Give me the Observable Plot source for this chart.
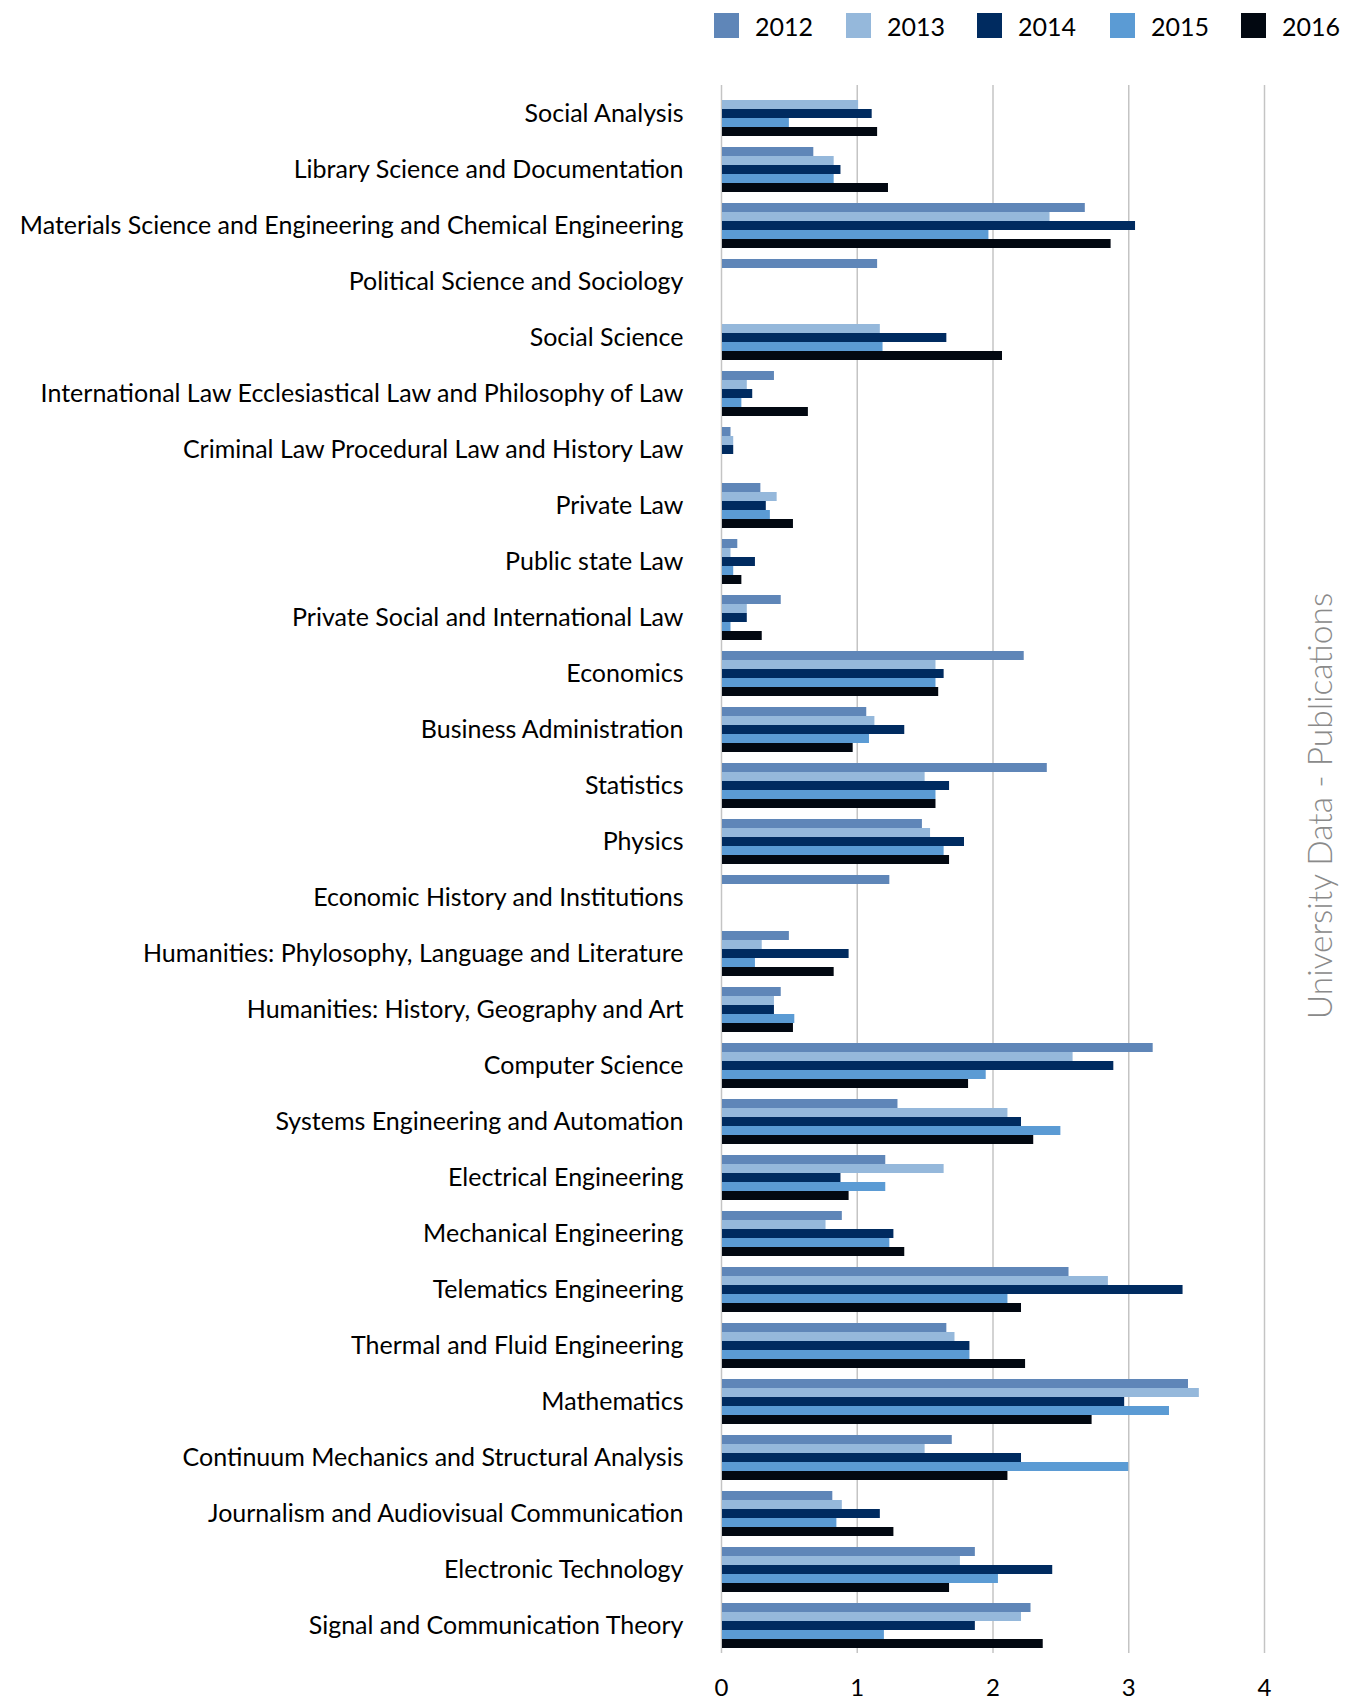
<!DOCTYPE html>
<html>
<head>
<meta charset="utf-8">
<script src="https://cdn.jsdelivr.net/npm/d3@7"></script>
<script src="https://cdn.jsdelivr.net/npm/@observablehq/plot@0.6"></script>
<style>
  html, body { margin: 0; padding: 0; background: #fff; }
  #wrap { position: relative; width: 1348px; height: 1704px; font-family: Lato, "Open Sans", sans-serif; }
  #legend { position: absolute; left: 0; top: 0; width: 1348px; height: 60px; }
  .item { position: absolute; top: 13px; height: 25px; display: flex; align-items: center; }
  .sw { width: 25px; height: 25px; }
  .lab { margin-left: 16px; font-size: 25px; color: #000; }
  #chart { position: absolute; left: 0; top: 60px; }
  #side { position: absolute; left: 1319px; top: 806px; transform: translate(-50%, -50%) rotate(-90deg);
          white-space: nowrap; font-size: 33.5px; font-weight: 300; color: #8a8a8a; }
</style>
</head>
<body>
<div id="wrap">
  <div id="legend"></div>
  <div id="chart"></div>
  <div id="side">University Data - Publications</div>
</div>
<script>
const categories = [
  "Social Analysis",
  "Library Science and Documentation",
  "Materials Science and Engineering and Chemical Engineering",
  "Political Science and Sociology",
  "Social Science",
  "International Law Ecclesiastical Law and Philosophy of Law",
  "Criminal Law Procedural Law and History Law",
  "Private Law",
  "Public state Law",
  "Private Social and International Law",
  "Economics",
  "Business Administration",
  "Statistics",
  "Physics",
  "Economic History and Institutions",
  "Humanities: Phylosophy, Language and Literature",
  "Humanities: History, Geography and Art",
  "Computer Science",
  "Systems Engineering and Automation",
  "Electrical Engineering",
  "Mechanical Engineering",
  "Telematics Engineering",
  "Thermal and Fluid Engineering",
  "Mathematics",
  "Continuum Mechanics and Structural Analysis",
  "Journalism and Audiovisual Communication",
  "Electronic Technology",
  "Signal and Communication Theory"
];

const years = ["2012", "2013", "2014", "2015", "2016"];
const colors = ["#5f86b8", "#95b8db", "#002b60", "#5b9bd4", "#020811"];
const xTicks = [0, 1, 2, 3, 4];

const v2012 = [null, 0.68, 2.68, 1.15, null, 0.39, 0.07, 0.29, 0.12, 0.44, 2.23, 1.07, 2.40, 1.48, 1.24, 0.50, 0.44, 3.18, 1.30, 1.21, 0.89, 2.56, 1.66, 3.44, 1.70, 0.82, 1.87, 2.28];
const v2013 = [1.01, 0.83, 2.42, null, 1.17, 0.19, 0.09, 0.41, 0.07, 0.19, 1.58, 1.13, 1.50, 1.54, null, 0.30, 0.39, 2.59, 2.11, 1.64, 0.77, 2.85, 1.72, 3.52, 1.50, 0.89, 1.76, 2.21];
const v2014 = [1.11, 0.88, 3.05, null, 1.66, 0.23, 0.09, 0.33, 0.25, 0.19, 1.64, 1.35, 1.68, 1.79, null, 0.94, 0.39, 2.89, 2.21, 0.88, 1.27, 3.40, 1.83, 2.97, 2.21, 1.17, 2.44, 1.87];
const v2015 = [0.50, 0.83, 1.97, null, 1.19, 0.15, null, 0.36, 0.09, 0.07, 1.58, 1.09, 1.58, 1.64, null, 0.25, 0.54, 1.95, 2.50, 1.21, 1.24, 2.11, 1.83, 3.30, 3.00, 0.85, 2.04, 1.20];
const v2016 = [1.15, 1.23, 2.87, null, 2.07, 0.64, null, 0.53, 0.15, 0.30, 1.60, 0.97, 1.58, 1.68, null, 0.83, 0.53, 1.82, 2.30, 0.94, 1.35, 2.21, 2.24, 2.73, 2.11, 1.27, 1.68, 2.37];

const series = [v2012, v2013, v2014, v2015, v2016];
const rows = [];
categories.forEach((c, i) => {
  years.forEach((y, j) => {
    const v = series[j][i];
    if (v != null) rows.push({category: c, year: y, value: v});
  });
});

// Legend
const legend = document.getElementById("legend");
const legendX = [714, 846, 977, 1110, 1241];
years.forEach((y, j) => {
  const it = document.createElement("div");
  it.className = "item";
  it.style.left = legendX[j] + "px";
  it.innerHTML = `<div class="sw" style="background:${colors[j]}"></div><div class="lab">${y}</div>`;
  legend.appendChild(it);
});

const H = 1644;
const TARGET_TOP = 19, TARGET_BOTTOM = 1599, TICK_TOP = 1624;

function make(mt, mb, tp) {
  return Plot.plot({
    width: 1348,
    height: H,
    marginTop: mt,
    marginBottom: mb,
    marginLeft: 721,
    marginRight: 84,
    facet: {marginTop: 0, marginBottom: 0, marginLeft: 0, marginRight: 0},
    style: {fontFamily: "Lato, 'Open Sans', sans-serif", fontSize: "25px", color: "#000", background: "transparent"},
    x: {domain: [0, 4], axis: null},
    fy: {domain: categories, padding: 0, label: null, axis: null},
    y: {domain: years, axis: null, paddingInner: 0, paddingOuter: 0.57},
    color: {domain: years, range: colors},
    marks: [
      Plot.gridX(xTicks, {stroke: "#c4c4c4", strokeOpacity: 1, strokeWidth: 1.5}),
      Plot.barX(rows, {x: "value", y: "year", fy: "category", fill: "year", insetLeft: 1}),
      Plot.axisFy({anchor: "left", tickSize: 0, tickPadding: 38, fontSize: 25, label: null}),
      Plot.axisX(xTicks, {anchor: "bottom", tickSize: 0, tickPadding: tp, fontSize: 24, label: null, tickFormat: d => String(d)})
    ]
  });
}

function fyRange(c) {
  const r = c.scale("fy").range;
  return [Math.min(r[0], r[1]), Math.max(r[0], r[1])];
}

let chart;
try {
  const mt0 = 19, mb0 = 45;
  const a = fyRange(make(mt0, mb0, 25));
  const b = fyRange(make(mt0 + 10, mb0 + 10, 25));
  const st = (b[0] - a[0]) / 10 || 1;
  const sb = (a[1] - b[1]) / 10 || 1;
  const mt = mt0 + (TARGET_TOP - a[0]) / st;
  const mb = mb0 + (a[1] - TARGET_BOTTOM) / sb;
  chart = make(mt, mb, 25);
  const f = fyRange(chart);
  const tp = Math.min(25, TICK_TOP - f[1]);
  if (Math.abs(tp - 25) > 0.5) chart = make(mt, mb, tp);
} catch (e) {
  chart = make(19, 45, 25);
}
document.getElementById("chart").appendChild(chart);
</script>
</body>
</html>
